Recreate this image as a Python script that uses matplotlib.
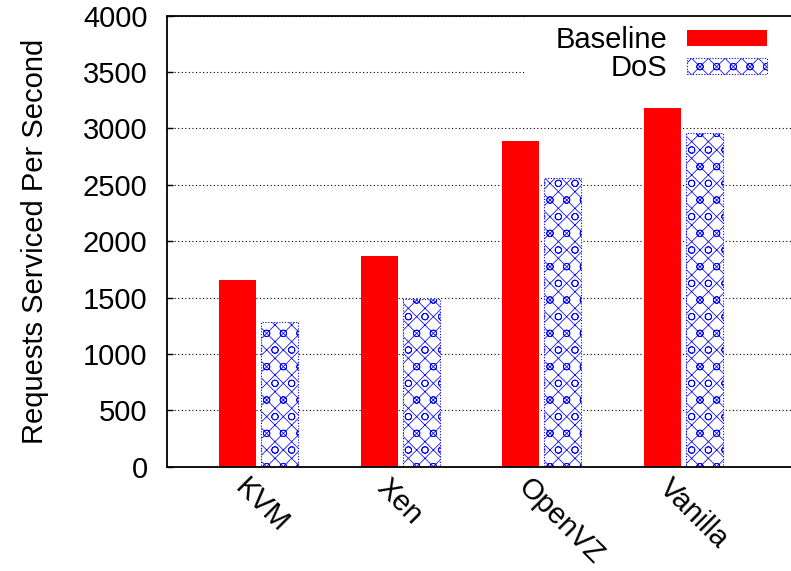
import numpy as np
import matplotlib
matplotlib.use('Agg')
import matplotlib.pyplot as plt
import matplotlib.transforms as mtransforms

plt.rcParams['font.family'] = ['Liberation Sans', 'DejaVu Sans']
plt.rcParams['hatch.linewidth'] = 0.55

platforms = ['KVM', 'Xen', 'OpenVZ', 'Vanilla']
baseline = [1660, 1865, 2888, 3182]
dos = [1280, 1487, 2562, 2958]
yticks = [0, 500, 1000, 1500, 2000, 2500, 3000, 3500, 4000]

fs = 21

fig = plt.figure(figsize=(7.91, 5.71), dpi=100)
ax = fig.add_axes([0.2111, 0.1827, 0.7889, 0.7898])

x = np.arange(len(platforms))
w = 0.262
off = 0.149
ax.bar(x - off, baseline, w, color='#ff0000', edgecolor='none', zorder=2, label='Baseline')
ax.bar(x + off, dos, w, color='white', edgecolor='#0000ff', hatch='xxo',
       linewidth=0.8, linestyle=(0, (1, 1.5)), zorder=2, label='DoS')

ax.set_xlim(-0.650, 3.763)
ax.set_ylim(0, 4000)
ax.set_yticks(yticks)
ax.set_yticklabels([str(v) for v in yticks])
ax.yaxis.grid(True, color='black', linestyle=(0, (1, 2.2)), linewidth=0.8, zorder=0.5)
ax.set_axisbelow(True)
ax.tick_params(axis='y', direction='in', length=4, width=1, pad=14, labelsize=fs)
ax.tick_params(axis='x', length=0)
ax.set_xticks(x)
ax.set_xticklabels([])

for side in ['left', 'top', 'bottom']:
    ax.spines[side].set_linewidth(1.3)
ax.spines['right'].set_visible(False)

# rotated category labels, hung below each group
shift = mtransforms.ScaledTranslation(-14 / 72, -12 / 72, fig.dpi_scale_trans)
for xi, name in zip(x, platforms):
    ax.text(xi, 0, name, rotation=-45, rotation_mode='anchor', ha='left', va='center',
            fontsize=fs, transform=ax.get_xaxis_transform() + shift)

ax.set_ylabel('Requests Serviced Per Second', fontsize=fs, labelpad=24)

leg = ax.legend(loc='upper right', bbox_to_anchor=(1.0063, 1.005),
                bbox_transform=fig.transFigure, frameon=True, fancybox=False,
                edgecolor='white', facecolor='white', framealpha=1.0,
                markerfirst=False, fontsize=fs, handlelength=2.74, handleheight=0.51,
                handletextpad=0.68, labelspacing=0.0, borderpad=1.0, borderaxespad=0)
# white key box hides the grid but sits under the bars and the border
leg.set_zorder(1.5)

fig.savefig('out.png', dpi=100)
